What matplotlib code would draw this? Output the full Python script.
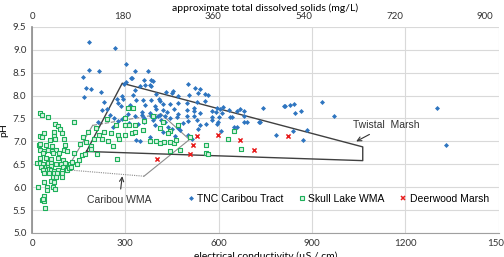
import matplotlib
matplotlib.use("Agg")
import matplotlib.pyplot as plt
from matplotlib.lines import Line2D

# TNC Caribou Tract (EC uS/cm, pH)
tnc_ec = [184, 267, 184, 214, 165, 301, 332, 372, 174, 189, 223, 167, 322, 317, 361, 383, 388, 302,
          297, 347, 362, 383, 332, 500, 525, 540, 379, 325, 397, 450, 452, 470, 505, 555, 532, 567,
          290, 430,
          272, 233, 294, 333, 356, 381, 409, 411, 422, 444, 470, 498, 530, 555, 363, 395, 316, 285,
          933, 813, 830, 843,
          241, 421, 455, 498, 520, 540, 580, 595, 604, 613, 633, 658, 670, 680, 742, 811, 846, 866,
          1302, 352, 380, 400, 470, 610, 590, 520, 435, 224, 278,
          384, 395, 405, 412, 428, 465, 498, 520, 580, 602, 642, 680, 970, 360, 445, 355, 330, 310,
          290, 265, 250, 299,
          390, 415, 428, 500, 531, 580, 599, 596, 680, 690, 733, 395, 438, 485, 540, 560, 340, 360,
          312, 260, 278, 213,
          450, 470, 535, 476, 650, 658, 607, 785, 840, 883, 870, 1329, 335, 347, 420, 500, 515, 380,
          460, 730, 635]
tnc_ph = [9.18, 9.03, 8.56, 8.53, 8.41, 8.68, 8.53, 8.53, 8.17, 8.15, 8.08, 7.96, 8.39, 8.38, 8.33,
          8.34, 8.31, 8.29, 8.26, 8.21, 8.23, 8.22, 8.12, 8.26, 8.17, 8.15, 8.23, 8.02, 8.03, 8.06,
          8.10, 8.00, 8.01, 8.03, 8.05, 8.02, 8.00, 8.08,
          7.93, 7.85, 7.92, 7.90, 7.90, 7.91, 7.93, 7.88, 7.82, 7.82, 7.83, 7.83, 7.85, 7.88, 7.80,
          7.78, 7.80, 7.78, 7.85, 7.78, 7.80, 7.82,
          7.70, 7.68, 7.70, 7.69, 7.66, 7.63, 7.67, 7.72, 7.70, 7.74, 7.69, 7.67, 7.71, 7.66, 7.72,
          7.77, 7.63, 7.67, 7.72, 7.65, 7.62, 7.70, 7.60, 7.63, 7.64, 7.72, 7.65, 7.69, 7.83,
          7.56, 7.53, 7.56, 7.58, 7.55, 7.53, 7.55, 7.55, 7.53, 7.53, 7.53, 7.55, 7.56, 7.50, 7.50,
          7.58, 7.55, 7.60, 7.48, 7.52, 7.58, 7.54,
          7.46, 7.46, 7.43, 7.44, 7.47, 7.46, 7.43, 7.38, 7.43, 7.43, 7.43, 7.36, 7.32, 7.40, 7.35,
          7.38, 7.38, 7.42, 7.40, 7.32, 7.45, 7.43,
          7.27, 7.29, 7.27, 7.25, 7.32, 7.31, 7.23, 7.14, 7.22, 7.25, 7.02, 6.92, 7.03, 7.00, 7.20,
          7.15, 7.05, 7.10, 7.12, 7.43, 7.53]

# Skull Lake WMA
skull_ec = [26, 32, 52, 136, 74, 85, 90, 95, 72, 40, 25, 32, 72, 74, 104, 59, 23, 27, 46, 64, 107,
            27, 40, 51, 64, 78, 102, 113, 35, 69, 86, 135, 26, 45, 62, 84, 100, 15, 26, 36, 52, 62,
            78, 94, 105, 122, 30, 45, 50, 60, 100, 115, 35, 48, 55, 62, 70, 85, 110, 40, 55, 70, 80,
            98, 68, 78, 95, 38, 60, 72, 20, 47, 68, 48, 75, 40, 32, 37, 42, 36,
            111, 118, 124, 150, 160, 170, 145, 130, 190, 189, 175, 155, 165, 200, 180, 205, 225, 230,
            245, 272, 260, 215,
            270, 310, 325, 300, 312, 330, 255, 275, 300, 320, 330, 358, 380, 398, 410, 425, 445, 455,
            462, 508, 444, 438, 445, 476, 560, 560, 650, 629, 672, 360, 410, 420, 470, 240, 300, 390,
            210, 280, 567]
skull_ph = [7.63, 7.58, 7.53, 7.42, 7.38, 7.34, 7.27, 7.18, 7.20, 7.18, 7.12, 7.10, 7.12, 7.05, 7.05,
            7.02, 6.92, 6.95, 6.92, 6.90, 6.92, 6.81, 6.80, 6.82, 6.80, 6.81, 6.82, 6.80, 6.74, 6.74,
            6.75, 6.74, 6.63, 6.64, 6.62, 6.63, 6.60, 6.52, 6.52, 6.50, 6.52, 6.53, 6.51, 6.50, 6.52,
            6.50, 6.45, 6.45, 6.44, 6.46, 6.44, 6.45, 6.38, 6.37, 6.39, 6.38, 6.36, 6.38, 6.38, 6.31,
            6.30, 6.31, 6.30, 6.31, 6.22, 6.22, 6.23, 6.12, 6.13, 6.12, 6.00, 6.00, 6.00, 5.94, 5.95,
            5.80, 5.72, 5.70, 5.54, 5.75,
            6.37, 6.42, 6.44, 6.60, 6.70, 6.72, 6.50, 6.55, 6.90, 6.84, 6.98, 6.95, 7.10, 7.05, 7.20,
            7.30, 7.05, 7.20, 7.00, 6.61, 6.90, 7.15,
            7.36, 7.72, 7.73, 7.36, 7.36, 7.36, 7.19, 7.15, 7.15, 7.19, 7.20, 7.25, 7.00, 7.00, 6.97,
            6.98, 6.99, 6.96, 7.02, 7.10, 7.22, 7.18, 6.80, 6.81, 6.92, 6.75, 7.23, 7.05, 6.83, 7.45,
            7.30, 7.42, 7.35, 7.48, 7.52, 7.55, 6.72, 7.05, 6.73]

# Deerwood Marsh
deer_ec = [401, 508, 519, 530, 599, 669, 713, 823]
deer_ph = [6.62, 6.73, 6.92, 7.12, 7.14, 7.03, 6.82, 7.12]

# outline polygons
twistal_ec = [175, 290, 1063, 1063, 175]
twistal_ph = [6.78, 8.27, 6.88, 6.58, 6.78]
caribou_ec = [111, 195, 415, 506, 360, 111]
caribou_ph = [6.38, 7.35, 7.60, 7.04, 6.24, 6.38]

tds_ticks = [0, 180, 360, 540, 720, 900]

blue = '#2E75C0'
green = '#1DB05A'
red = '#E81C1C'

fig = plt.figure(figsize=(5.04, 2.57), dpi=100)
ax = fig.add_axes([0.0635, 0.0934, 0.926, 0.802])

ax.set_xlim(0, 1500)
ax.set_ylim(5.0, 9.5)
ax.set_xticks([0, 300, 600, 900, 1200, 1500])
ax.set_yticks([5.0 + 0.5 * i for i in range(10)])
ax.set_yticklabels(['%.1f' % (5.0 + 0.5 * i) for i in range(10)])
ax.grid(True, color='#D9D9D9', lw=0.8)
ax.set_axisbelow(True)
for s in ['top', 'right']:
    ax.spines[s].set_visible(False)
ax.spines['left'].set_color('#8C8C8C')
ax.spines['left'].set_linewidth(1.2)
ax.spines['bottom'].set_color('#A0A0A0')
ax.tick_params(length=0, labelsize=7, pad=4, colors='#333333')
for lab in ax.get_xticklabels() + ax.get_yticklabels():
    lab.set_family('Lato')

# polygons
ax.plot(caribou_ec[0:2], caribou_ph[0:2], color='#8C8C8C', lw=0.8)
ax.plot(caribou_ec[1:3], caribou_ph[1:3], color='#8C8C8C', lw=0.8, ls=(0, (4, 1.5)))
ax.plot(caribou_ec[2:5], caribou_ph[2:5], color='#8C8C8C', lw=0.8)
ax.plot(caribou_ec[4:6], caribou_ph[4:6], color='#8C8C8C', lw=0.8, ls=(0, (1, 1)))
ax.plot(twistal_ec, twistal_ph, color='#404040', lw=1.0)

ax.scatter(tnc_ec, tnc_ph, marker='D', s=6.5, color=blue, lw=0, label='TNC Caribou Tract', zorder=3)
ax.scatter(skull_ec, skull_ph, marker='s', s=5.5, facecolors='#DDF3E5', edgecolors=green, lw=0.8,
           label='Skull Lake WMA', zorder=3)
ax.scatter(deer_ec, deer_ph, marker='x', s=9, color=red, lw=1.1, label='Deerwood Marsh', zorder=4)

ax.annotate('Twistal  Marsh', xy=(1042, 7.0), xytext=(1140, 7.35), ha='center', va='center',
            fontsize=7.5, family='Liberation Sans', color='#333333',
            arrowprops=dict(arrowstyle='->', color='#333333', lw=0.8, shrinkA=2, shrinkB=0))
ax.annotate('Caribou WMA', xy=(290, 6.24), xytext=(281, 5.73), ha='center', va='center',
            fontsize=7.5, family='Liberation Sans', color='#333333',
            arrowprops=dict(arrowstyle='->', color='#333333', lw=0.8, shrinkA=2, shrinkB=0))

ax.set_ylabel('pH', fontsize=7.5, family='Lato', labelpad=3)
ax.set_xlabel('electrical conductivity (\u00b5S / cm)', fontsize=7.5, family='Lato', labelpad=3)

top = ax.secondary_xaxis('top', functions=(lambda x: x * 0.618, lambda x: x / 0.618))
top.set_xticks(tds_ticks)
top.tick_params(length=0, labelsize=7, pad=4, colors='#333333')
for lab in top.get_xticklabels():
    lab.set_family('Lato')
top.spines['top'].set_visible(False)
top.set_xlabel('approximate total dissolved solids (mg/L)', fontsize=7.5, family='Lato', labelpad=1)

handles = [Line2D([], [], ls='', marker='D', ms=2.5, color=blue, mew=0),
           Line2D([], [], ls='', marker='s', ms=2.4, mfc='#DDF3E5', mec=green, mew=0.8),
           Line2D([], [], ls='', marker='x', ms=3, color=red, mew=1.1)]
leg = ax.legend(handles, ['TNC Caribou Tract', 'Skull Lake WMA', 'Deerwood Marsh'], ncol=3,
                loc='center', bbox_to_anchor=(0.655, 0.165), frameon=False, handletextpad=0.2,
                columnspacing=1.4, handlelength=0.8, prop={'family': 'Liberation Sans', 'size': 7.5})

fig.savefig('out.png', dpi=100)
